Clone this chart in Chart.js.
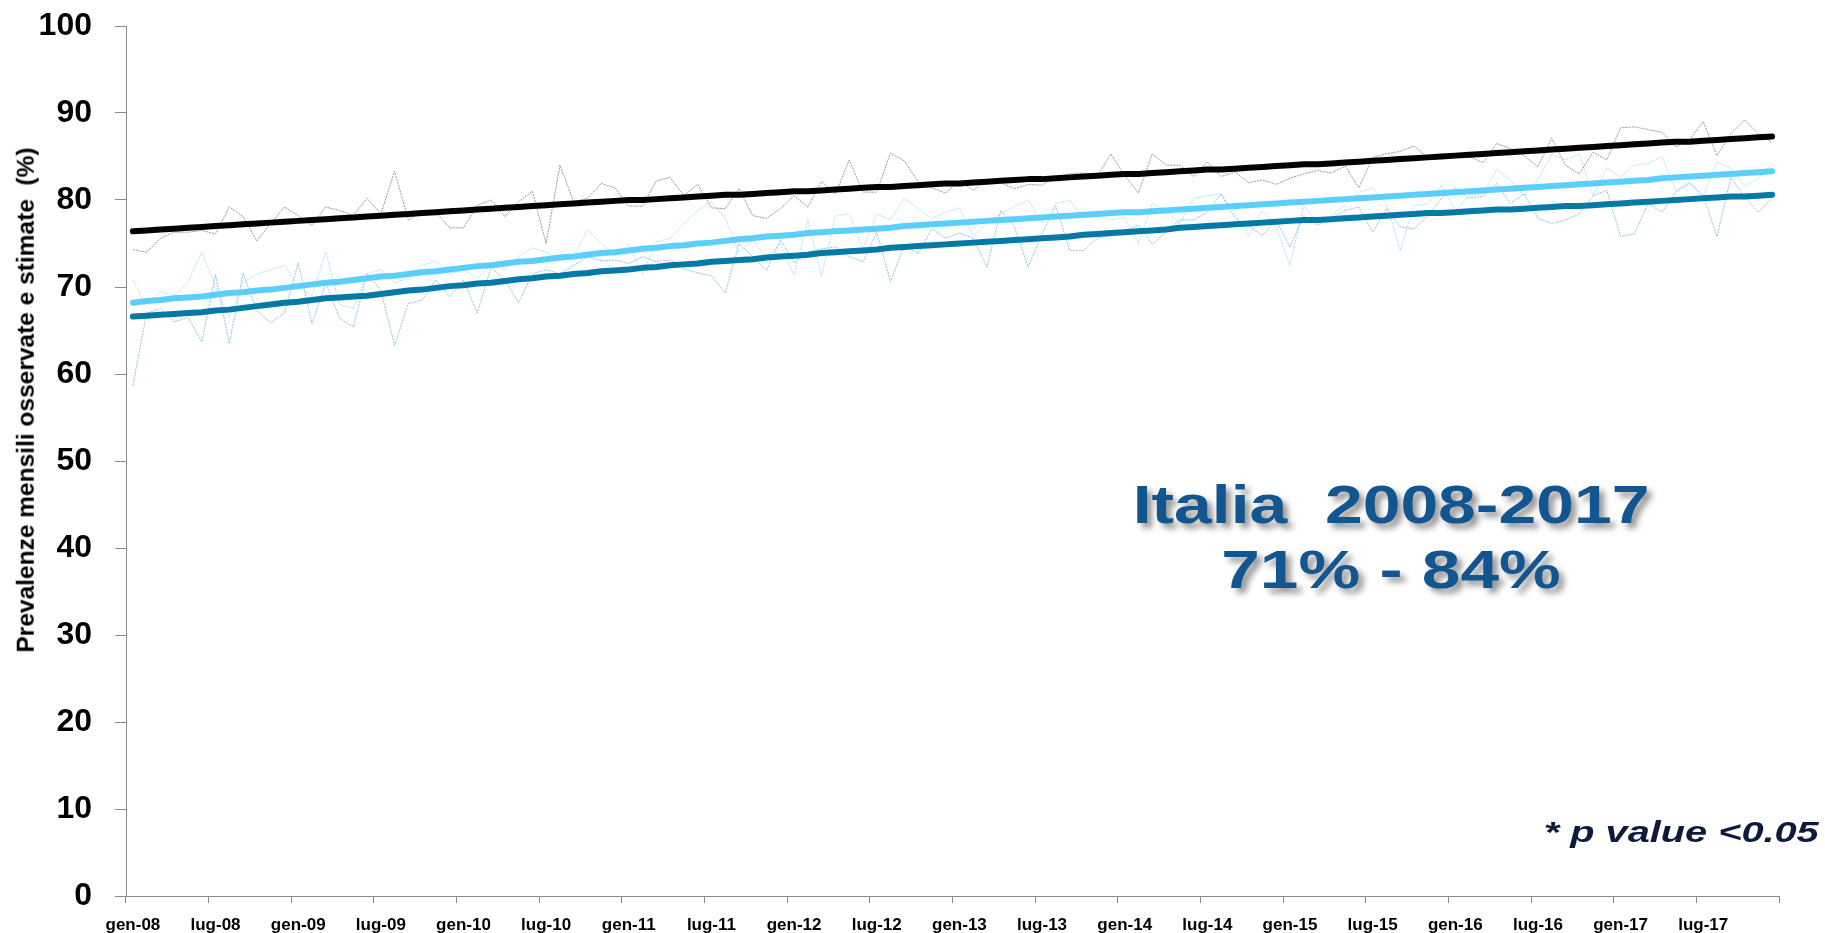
<!DOCTYPE html>
<html>
<head>
<meta charset="utf-8">
<script src="https://cdn.jsdelivr.net/npm/chart.js@4.4.1/dist/chart.umd.min.js"></script>
<style>
  html, body { margin: 0; padding: 0; background: #ffffff; }
  #wrap { position: relative; width: 1825px; height: 933px; overflow: hidden; background: #fff; }
  #c { position: absolute; left: 0; top: 0; }
  .ytitle { position: absolute; left: 26px; top: 400px; transform: translate(-50%, -50%) rotate(-90deg);
    font-family: 'Liberation Sans', Arial, sans-serif; font-weight: bold; font-size: 24.5px; line-height: 1;
    white-space: pre; color: #000; }
  .big { position: absolute; left: 1391px; transform-origin: center;
    font-family: 'Liberation Sans', Arial, sans-serif; font-weight: bold; font-size: 53px; line-height: 1;
    white-space: pre; color: #13558f; text-shadow: 4px 5px 6px rgba(0,0,0,0.42); }
  .pval { position: absolute; right: 6px; top: 818px; transform: scaleX(1.37); transform-origin: right center;
    font-family: 'Liberation Sans', Arial, sans-serif; font-weight: bold; font-style: italic; font-size: 29px; line-height: 1;
    white-space: pre; color: #0d1a3c; }
</style>
</head>
<body>
<div id="wrap">
  <canvas id="c" width="1825" height="933"></canvas>
  <div class="ytitle">Prevalenze mensili osservate e stimate  (%)</div>
  <div class="big" style="top:478px; transform: translateX(-50%) scaleX(1.28);">Italia  2008-2017</div>
  <div class="big" style="top:543px; transform: translateX(-50%) scaleX(1.31);">71% - 84%</div>
  <div class="pval">* p value &lt;0.05</div>
</div>
<script>
// ---- categories ----
const monthNames = ['gen','feb','mar','apr','mag','giu','lug','ago','set','ott','nov','dic'];
const yearLabels = ['08','09','10','11','12','13','14','15','16','17'];
const categories = [];
yearLabels.forEach(y => monthNames.forEach(m => categories.push(m + '-' + y)));

// ---- estimated trend lines ----
const trendTotal = [
  76.4,76.5,76.6,76.7,76.8,76.9,77.0,77.1,77.2,77.3,77.4,77.5,77.6,77.7,77.8,77.9,78.0,78.1,78.2,78.3,
  78.4,78.5,78.6,78.7,78.8,78.9,79.0,79.1,79.2,79.3,79.4,79.5,79.6,79.7,79.8,
  79.9,80.0,80.0,80.1,80.2,80.3,80.4,80.5,80.6,80.6,80.7,80.8,80.9,81.0,81.0,81.1,81.2,81.3,81.4,81.5,
  81.5,81.6,81.7,81.8,81.9,81.9,82.0,82.1,
  82.2,82.3,82.4,82.4,82.5,82.6,82.7,82.8,82.9,83.0,83.0,83.1,83.2,83.3,83.4,83.5,83.5,83.6,83.7,83.8,
  83.9,84.0,84.1,84.1,84.2,84.3,84.4,84.5,84.6,
  84.7,84.8,84.9,85.0,85.1,85.2,85.3,85.4,85.5,85.6,85.7,85.8,85.9,86.0,86.1,
  86.2,86.3,86.4,86.5,86.6,86.7,86.7,86.8,86.9,87.0,87.1,87.2,87.3
];
const trendLight = [
  68.2,68.4,68.5,68.7,68.8,68.9,69.1,69.3,69.4,69.6,69.7,69.9,
  70.1,70.3,70.5,70.6,70.8,71.0,71.2,71.3,71.5,71.7,71.8,72.0,
  72.2,72.4,72.5,72.7,72.9,73.0,73.2,73.4,73.5,73.7,73.9,
  74.0,74.2,74.4,74.5,74.7,74.8,75.0,75.1,75.3,75.5,75.6,75.8,75.9,
  76.0,76.2,76.3,76.4,76.5,76.6,76.7,76.8,77.0,77.1,77.2,77.3,77.4,77.5,77.6,
  77.7,77.8,77.9,78.0,78.1,78.2,78.3,78.4,78.5,78.6,78.6,78.7,78.8,78.9,79.0,
  79.1,79.2,79.3,79.4,79.5,79.6,79.7,79.8,79.9,80.0,80.1,80.2,80.3,80.4,
  80.5,80.6,80.7,80.8,80.9,81.0,81.1,81.2,81.3,81.4,81.5,81.6,81.7,81.8,81.9,
  82.0,82.1,82.2,82.3,82.5,82.6,82.7,82.8,82.9,83.0,83.1,83.2,83.3
];
const trendDark = [
  66.6,66.7,66.8,66.9,67.0,67.1,67.3,67.4,67.6,67.8,68.0,68.2,
  68.3,68.5,68.7,68.8,68.9,69.0,69.2,69.4,69.6,69.7,69.9,70.1,
  70.2,70.4,70.5,70.7,70.9,71.0,71.2,71.3,71.5,71.6,71.8,71.9,
  72.0,72.2,72.3,72.5,72.6,72.7,72.9,73.0,73.1,73.2,73.4,73.5,
  73.6,73.7,73.9,74.0,74.1,74.2,74.3,74.5,74.6,74.7,74.8,74.9,75.0,75.1,75.2,
  75.3,75.4,75.5,75.6,75.7,75.8,76.0,76.1,76.2,76.3,76.4,76.5,76.6,76.8,76.9,
  77.0,77.1,77.2,77.3,77.4,77.5,77.6,77.7,77.7,77.8,77.9,78.0,78.1,78.2,
  78.3,78.4,78.5,78.5,78.6,78.7,78.8,78.9,78.9,79.0,79.1,79.2,79.3,79.3,79.4,
  79.5,79.6,79.7,79.8,79.9,80.0,80.1,80.2,80.3,80.4,80.4,80.5,80.6
];

// ---- observed monthly prevalences ----
const obsTotal = [
  74.3,74.0,75.6,76.3,76.3,76.5,76.1,79.2,78.1,75.3,77.3,79.2,78.2,77.1,79.2,78.8,78.2,80.2,78.4,83.3,
  77.7,78.6,78.6,76.8,76.8,79.4,80.0,78.1,79.8,81.0,75.0,84.0,79.8,80.2,81.9,
  81.4,79.3,79.3,82.2,82.6,80.5,81.8,79.1,79.0,81.3,78.2,77.9,79.0,80.5,79.2,82.1,80.7,84.6,80.9,80.9,
  85.4,84.5,82.1,81.4,80.8,82.2,81.1,82.3,
  82.0,81.3,81.8,81.7,82.7,83.0,83.1,82.7,85.3,82.8,80.8,85.3,84.0,84.0,82.7,84.4,82.7,83.2,82.0,82.3,
  81.8,82.5,83.0,83.4,83.1,83.9,81.4,84.9,85.3,
  85.6,86.2,84.9,84.9,85.0,85.0,84.3,86.5,85.9,85.1,83.8,87.1,84.0,83.0,85.5,84.6,88.3,88.4,88.1,87.8,
  86.1,86.9,89.0,85.1,87.6,89.2,87.6,86.6
];
const obsLight = [
  70.8,67.7,69.5,69.0,70.5,74.0,70.0,66.5,70.5,71.5,72.0,72.5,70.0,69.0,74.0,68.0,67.5,71.5,72.0,70.5,
  71.0,72.5,73.0,71.5,72.0,71.0,72.5,72.0,73.5,74.5,74.0,73.0,73.5,76.6,75.0,
  73.6,74.9,71.5,75.2,75.6,77.3,78.8,79.8,77.9,74.0,75.4,73.3,75.0,71.4,77.7,71.2,78.2,78.4,74.4,78.4,
  77.7,80.2,79.0,77.9,78.6,79.1,75.8,77.3,
  78.4,79.3,80.0,77.3,79.6,80.0,77.9,78.2,77.7,78.0,75.0,79.6,78.8,77.3,80.2,80.5,80.7,78.4,75.8,78.8,
  76.9,72.5,79.4,77.3,78.2,79.4,80.9,81.4,79.6,
  74.2,79.4,79.5,81.7,78.8,80.5,80.7,83.5,82.3,80.5,82.3,85.3,84.6,85.3,80.5,83.7,82.6,84.0,84.2,85.0,
  81.1,82.1,80.4,84.4,83.6,81.6,82.5,84.2
];
const obsDark = [
  58.7,67.0,67.5,66.0,66.5,63.7,71.4,63.5,71.6,67.3,65.9,67.0,72.8,65.8,70.5,66.4,65.4,71.6,69.6,63.3,
  68.1,68.5,70.8,68.9,70.8,67.0,72.3,70.8,68.2,71.5,72.0,71.5,72.5,73.5,73.0,
  73.1,72.7,73.5,72.9,73.1,72.1,71.6,71.3,69.3,75.0,73.5,71.9,75.4,72.8,74.0,74.4,74.6,73.5,72.9,76.3,
  70.6,74.8,73.8,76.7,75.6,76.2,75.6,72.3,
  78.8,76.9,72.3,76.1,79.3,74.2,74.2,75.6,75.9,76.5,77.1,74.9,76.3,77.7,77.7,78.6,80.7,77.9,77.0,75.9,
  77.7,74.6,78.2,77.1,77.9,78.8,79.2,76.3,79.0,
  76.9,76.7,78.1,80.2,81.4,80.2,80.4,81.9,79.6,80.7,77.9,77.3,77.7,78.4,80.5,81.1,75.8,76.1,79.6,78.6,
  80.9,81.9,80.5,75.8,82.6,80.4,78.6,80.2
];

// ---- y axis ticks ----
const yMin = 0, yMax = 100, yStep = 10;

const FONT = "'Liberation Sans', Arial, sans-serif";
const AXIS_COLOR = '#8c8c8c';

function noisy(data, color) {
  return { data, borderColor: color, borderWidth: 1, borderDash: [2, 1], pointRadius: 0, tension: 0, fill: false, order: 2 };
}
function trend(data, color) {
  return { data, borderColor: color, borderWidth: 6, borderCapStyle: 'round', borderJoinStyle: 'round', pointRadius: 0, tension: 0, fill: false, order: 1 };
}

new Chart(document.getElementById('c'), {
  type: 'line',
  data: {
    labels: categories,
    datasets: [
      trend(trendTotal, '#000000'),
      trend(trendLight, '#5ccefb'),
      trend(trendDark, '#0479a6'),
      noisy(obsTotal, 'rgba(110,110,110,0.7)'),
      noisy(obsLight, 'rgba(120,205,240,0.6)'),
      noisy(obsDark, 'rgba(40,140,190,0.5)')
    ]
  },
  options: {
    responsive: false,
    animation: false,
    devicePixelRatio: 1,
    layout: { padding: { top: 26, right: 46, bottom: 0, left: 0 } },
    plugins: { legend: { display: false }, tooltip: { enabled: false }, title: { display: false } },
    elements: { point: { radius: 0 } },
    scales: {
      x: {
        type: 'category',
        offset: true,
        grid: {
          offset: true, drawOnChartArea: false, drawTicks: true, tickLength: 7, lineWidth: 1,
          color: c => (c.index === undefined || c.index % 6 === 0) ? AXIS_COLOR : 'rgba(0,0,0,0)'
        },
        border: { display: true, color: AXIS_COLOR, width: 1 },
        ticks: {
          autoSkip: false, maxRotation: 0, minRotation: 0, padding: 12, color: '#000',
          font: { family: FONT, size: 17, weight: 'bold' },
          callback: (v, i) => (i % 6 === 0 ? categories[i] : '')
        },
        afterFit: s => { s.height = 37; s.paddingLeft = 0; s.paddingRight = 0; }
      },
      y: {
        min: yMin, max: yMax,
        grid: { drawOnChartArea: false, drawTicks: true, tickLength: 11, color: AXIS_COLOR, lineWidth: 1 },
        border: { display: true, color: AXIS_COLOR, width: 1 },
        ticks: { stepSize: yStep, padding: 23, color: '#000', font: { family: FONT, size: 32, weight: 'bold' } },
        afterFit: s => { s.width = 126; s.paddingTop = 0; s.paddingBottom = 0; }
      }
    }
  }
});
</script>
</body>
</html>
